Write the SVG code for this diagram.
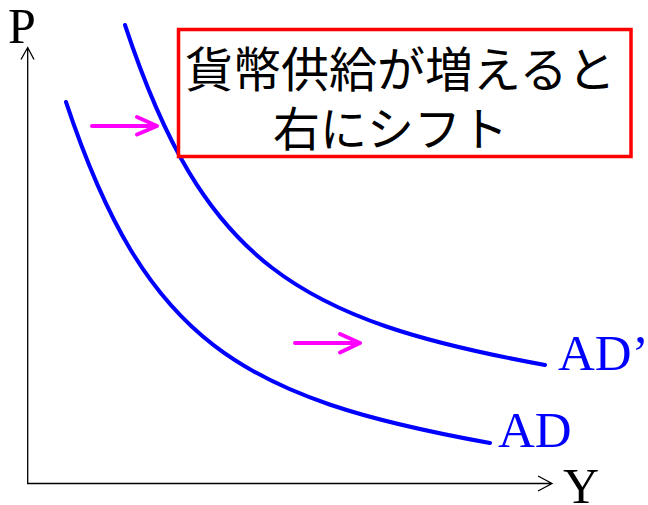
<svg xmlns="http://www.w3.org/2000/svg" width="648" height="505" viewBox="0 0 648 505">
<style>
.axis{fill:none;stroke:#000;stroke-width:1.3}
.curve{fill:none;stroke:#0000FF;stroke-width:4;stroke-linecap:round}
.shift{fill:none;stroke:#FF00FF;stroke-width:4;stroke-linecap:round;stroke-linejoin:round}
.lbl{font-family:"Liberation Serif","Times New Roman",serif}
.jp{font-family:"Noto Sans CJK JP","Noto Sans",sans-serif;fill:#000}
</style>
<rect width="648" height="505" fill="#fff"/>
<g id="axes">
<path class="axis" d="M27.7,484 V47.5 M21,59.5 L27.7,47.5 L34,59.5"/>
<path class="axis" d="M27,483.5 H552 M538,476 L552,483.5 L538,491"/>
<text class="lbl" x="8" y="43" font-size="50" fill="#000">P</text>
<text class="lbl" x="563" y="503" font-size="50" fill="#000">Y</text>
</g>
<g id="connectors">
<path id="AD-curve" class="curve" d="M66,102 C146,342 240,398 490,443"/>
<path id="ADp-curve" class="curve" d="M125,25 C204,264 298,320 545,365"/>
<path class="shift" d="M92,126 H157 M137,117 L157,126 L137,134.5"/>
<path class="shift" d="M295,343 H360 M340,334 L360,343 L340,352.5"/>
</g>
<g id="AD-label">
<text class="lbl" x="498" y="447" font-size="51" fill="#0000FF">AD</text>
</g>
<g id="ADp-label">
<text class="lbl" x="558" y="370" font-size="51" fill="#0000FF">AD’</text>
</g>
<g id="note">
<rect x="178.5" y="29.5" width="452.5" height="127" fill="#fff" stroke="#FF0000" stroke-width="3.5"/>
<text class="jp" x="185" y="87" font-size="48">貨幣供給が増えると</text>
<text class="jp" x="273" y="146" font-size="47">右にシフト</text>
</g>
</svg>
